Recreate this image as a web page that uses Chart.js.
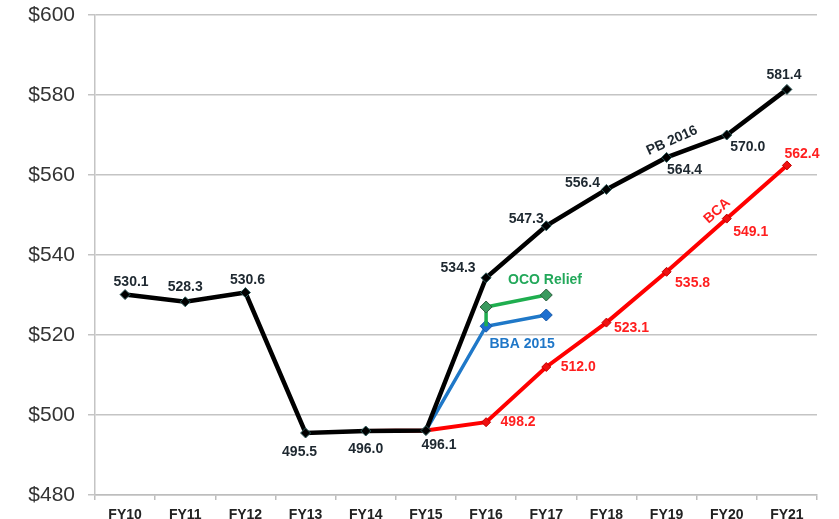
<!DOCTYPE html>
<html>
<head>
<meta charset="utf-8">
<script src="https://cdn.jsdelivr.net/npm/chart.js@4.4.0/dist/chart.umd.min.js"></script>
<style>
  html, body { margin: 0; padding: 0; background: #fff; }
  #wrap { width: 839px; height: 519px; }
</style>
</head>
<body>
<div id="wrap"><canvas id="chart"></canvas></div>
<script>
// fiscal years on the x axis
const years = ['FY10', 'FY11', 'FY12', 'FY13', 'FY14', 'FY15', 'FY16', 'FY17', 'FY18', 'FY19', 'FY20', 'FY21'];
const yTicks = [480, 500, 520, 540, 560, 580, 600];

// series values ($B)
const pb2016 = [530.1, 528.3, 530.6, 495.5, 496.0, 496.1, 534.3, 547.3, 556.4, 564.4, 570.0, 581.4];
const bca = [null, null, null, null, 496.0, 496.1, 498.2, 512.0, 523.1, 535.8, 549.1, 562.4];
const bba2015 = [null, null, null, null, null, 496.1, 522.2, 525.0, null, null, null, null];
const ocoYears = ['FY16', 'FY16', 'FY17'];
const ocoRelief = [522.2, 527.0, 530.0];

// which points get a value label (BCA only from FY16)
const bcaLabelled = [false, false, false, false, false, false, true, true, true, true, true, true];

// label offsets from each point, in px [dx, dy]
const pbOffsets = [[6, -12], [0, -15], [2, -12], [-6, 19], [0, 18], [13, 15], [-28, -10], [-20, -7], [-24, -6], [18, 13], [21, 12], [-3, -14]];
const bcaOffsets = [null, null, null, null, null, null, [32, 0], [32, 0], [25, 6], [26, 11], [24, 14], [15, -11]];

const valueLabels = {
  id: 'valueLabels',
  afterDatasetsDraw(chart) {
    const ctx = chart.ctx;
    const x = chart.scales.x, y = chart.scales.y;
    ctx.save();
    ctx.font = 'bold 14px "Liberation Sans", Arial, sans-serif';
    ctx.textAlign = 'center';
    ctx.textBaseline = 'middle';

    const pbMeta = chart.getDatasetMeta(0);
    ctx.fillStyle = '#1e2830';
    pb2016.forEach((v, i) => {
      const p = pbMeta.data[i];
      ctx.fillText(v.toFixed(1), p.x + pbOffsets[i][0], p.y + pbOffsets[i][1]);
    });

    const bcaMeta = chart.getDatasetMeta(3);
    ctx.fillStyle = '#ff1f1f';
    bca.forEach((v, i) => {
      if (!bcaLabelled[i]) return;
      const p = bcaMeta.data[i];
      ctx.fillText(v.toFixed(1), p.x + bcaOffsets[i][0], p.y + bcaOffsets[i][1]);
    });

    // series names
    const names = [
      { text: 'PB 2016', color: '#1e2830', xi: 9.09, v: 568.6, rot: -24 },
      { text: 'BCA', color: '#ff1f1f', xi: 9.84, v: 551.0, rot: -42 },
      { text: 'OCO Relief', color: '#22a85a', xi: 6.98, v: 533.6, rot: 0 },
      { text: 'BBA 2015', color: '#1f77c8', xi: 6.6, v: 517.8, rot: 0 }
    ];
    names.forEach(n => {
      ctx.save();
      ctx.translate(x.getPixelForValue(n.xi), y.getPixelForValue(n.v));
      ctx.rotate(n.rot * Math.PI / 180);
      ctx.fillStyle = n.color;
      ctx.fillText(n.text, 0, 0);
      ctx.restore();
    });
    ctx.restore();
  }
};

new Chart(document.getElementById('chart'), {
  type: 'line',
  data: {
    labels: years,
    datasets: [
      {
        label: 'PB 2016',
        data: pb2016,
        borderColor: '#000',
        borderWidth: 4.5,
        pointStyle: 'rectRot',
        pointRadius: 5,
        pointBackgroundColor: '#000',
        pointBorderColor: '#2d5a5a',
        pointBorderWidth: 1,
        tension: 0
      },
      {
        label: 'OCO Relief',
        data: ocoYears.map((yr, i) => ({ x: yr, y: ocoRelief[i] })),
        borderColor: '#1fae4f',
        borderWidth: 3.5,
        pointStyle: 'rectRot',
        pointRadius: [0, 6, 6],
        pointBackgroundColor: '#3a9a5e',
        pointBorderColor: '#2b5e3c',
        pointBorderWidth: 1,
        tension: 0
      },
      {
        label: 'BBA 2015',
        data: bba2015,
        borderColor: '#1f78c8',
        borderWidth: 3.5,
        pointStyle: 'rectRot',
        pointRadius: [0, 0, 0, 0, 0, 0, 6, 6, 0, 0, 0, 0],
        pointBackgroundColor: '#1d6fd0',
        pointBorderColor: '#1a5aa8',
        pointBorderWidth: 1,
        tension: 0
      },
      {
        label: 'BCA',
        data: bca,
        borderColor: '#ff0000',
        borderWidth: 4,
        pointStyle: 'rectRot',
        pointRadius: [0, 0, 0, 0, 0, 0, 4.5, 4.5, 4.5, 4.5, 4.5, 4.5],
        pointBackgroundColor: '#f01010',
        pointBorderColor: '#c00000',
        pointBorderWidth: 1,
        tension: 0
      }
    ]
  },
  options: {
    responsive: true,
    maintainAspectRatio: false,
    animation: false,
    layout: { padding: { top: 15, right: 22, left: 0, bottom: 0 } },
    plugins: {
      legend: { display: false },
      tooltip: { enabled: false }
    },
    scales: {
      x: {
        offset: true,
        grid: {
          offset: true,
          drawOnChartArea: false,
          drawTicks: true,
          tickLength: 5,
          color: '#bdbdbd',
          lineWidth: 1.5
        },
        border: { color: '#bdbdbd', width: 1.5 },
        ticks: {
          color: '#222',
          font: { family: '"Liberation Sans", Arial, sans-serif', size: 14, weight: 'bold' },
          padding: 7,
          maxRotation: 0,
          autoSkip: false
        },
        afterFit(s) { s.height = 24; s.paddingLeft = 0; s.paddingRight = 0; }
      },
      y: {
        min: yTicks[0],
        max: yTicks[yTicks.length - 1],
        afterBuildTicks(s) { s.ticks = yTicks.map(v => ({ value: v })); },
        grid: {
          color: '#c4c4c4',
          lineWidth: 1.5,
          tickLength: 7
        },
        border: { color: '#c4c4c4', width: 1.5 },
        ticks: {
          color: '#333',
          font: { family: '"Liberation Sans", Arial, sans-serif', size: 21 },
          padding: 13,
          callback: v => '$' + v
        },
        afterFit(s) { s.width = 95; s.paddingTop = 0; s.paddingBottom = 0; }
      }
    }
  },
  plugins: [valueLabels]
});
</script>
</body>
</html>
